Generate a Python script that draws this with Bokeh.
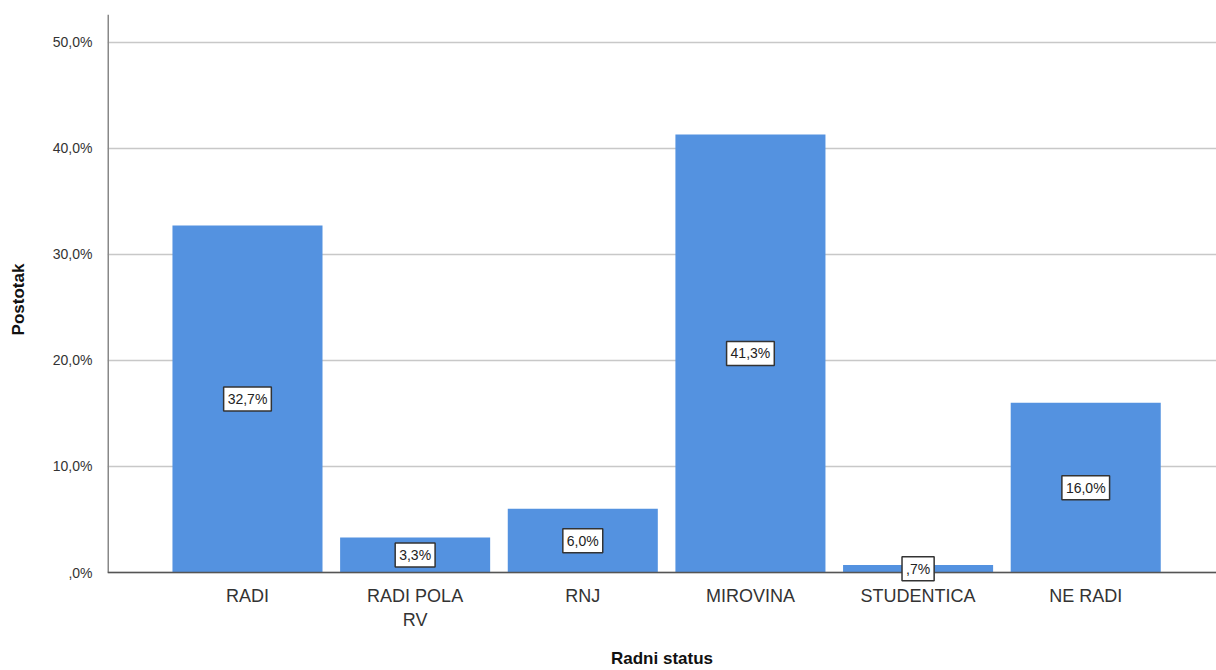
from bokeh.plotting import figure
from bokeh.models import ColumnDataSource, Range1d, FixedTicker, Label, Span
from bokeh.embed import file_html
from bokeh.resources import INLINE

categories = ["RADI", "RADI POLA\nRV", "RNJ", "MIROVINA", "STUDENTICA", "NE RADI"]
values = [32.7, 3.3, 6.0, 41.3, 0.7, 16.0]
value_labels = ["32,7%", "3,3%", "6,0%", "41,3%", ",7%", "16,0%"]
y_ticks = [0, 10, 20, 30, 40, 50]
y_tick_labels = [",0%", "10,0%", "20,0%", "30,0%", "40,0%", "50,0%"]

X_START, X_END = -0.835, 5.78
Y_START, Y_END = -1.13, 52.6

xs = list(range(len(categories)))
src = ColumnDataSource(dict(x=xs, top=values))

p = figure(width=1216, height=670, output_backend="svg", toolbar_location=None,
           x_range=Range1d(X_START, X_END), y_range=Range1d(Y_START, Y_END),
           min_border_left=107, min_border_right=0, min_border_top=14, min_border_bottom=86)
p.outline_line_color = None
p.background_fill_color = "white"

p.vbar(x="x", top="top", bottom=0, width=0.895, source=src, fill_color="#5492e0", line_color=None)

# axis lines drawn at the zero baseline / left edge
p.add_layout(Span(location=0, dimension="width", line_color="#555555", line_width=1.5))
p.segment(x0=[X_START], y0=[0], x1=[X_START], y1=[Y_END], line_color="#888888", line_width=3)

for x, v, lab in zip(xs, values, value_labels):
    p.add_layout(Label(x=x, y=v / 2, text=lab, text_align="center",
                       text_baseline="middle", text_font="Liberation Sans", text_font_size="14px",
                       text_color="#222222", background_fill_color="white",
                       border_line_color="#333333", border_line_width=1.5, padding=4,
                       level="overlay"))

p.xgrid.visible = False
p.ygrid.ticker = FixedTicker(ticks=y_ticks)
p.ygrid.grid_line_color = "#c8c8c8"
p.ygrid.grid_line_width = 1.5

p.xaxis.ticker = FixedTicker(ticks=xs)
p.xaxis.major_label_overrides = {i: c for i, c in zip(xs, categories)}
p.yaxis.ticker = FixedTicker(ticks=y_ticks)
p.yaxis.major_label_overrides = {t: l for t, l in zip(y_ticks, y_tick_labels)}

for ax in (p.xaxis[0], p.yaxis[0]):
    ax.major_tick_line_color = None
    ax.minor_tick_line_color = None
    ax.axis_line_color = None
    ax.axis_label_text_font = "Liberation Sans"
    ax.axis_label_text_font_style = "bold"
    ax.axis_label_text_font_size = "17px"
    ax.axis_label_text_color = "#111111"
    ax.major_label_text_font = "Liberation Sans"

p.xaxis.axis_label = "Radni status"
p.xaxis.major_label_text_font_size = "18px"
p.xaxis.major_label_text_color = "#333333"
p.xaxis.major_label_standoff = -5
p.xaxis.axis_label_standoff = 16

p.yaxis.axis_label = "Postotak"
p.yaxis.major_label_text_font_size = "14px"
p.yaxis.major_label_text_color = "#333333"
p.yaxis.major_label_standoff = 9
p.yaxis.axis_label_standoff = 22

open("out.html", "w").write(file_html(p, INLINE))
